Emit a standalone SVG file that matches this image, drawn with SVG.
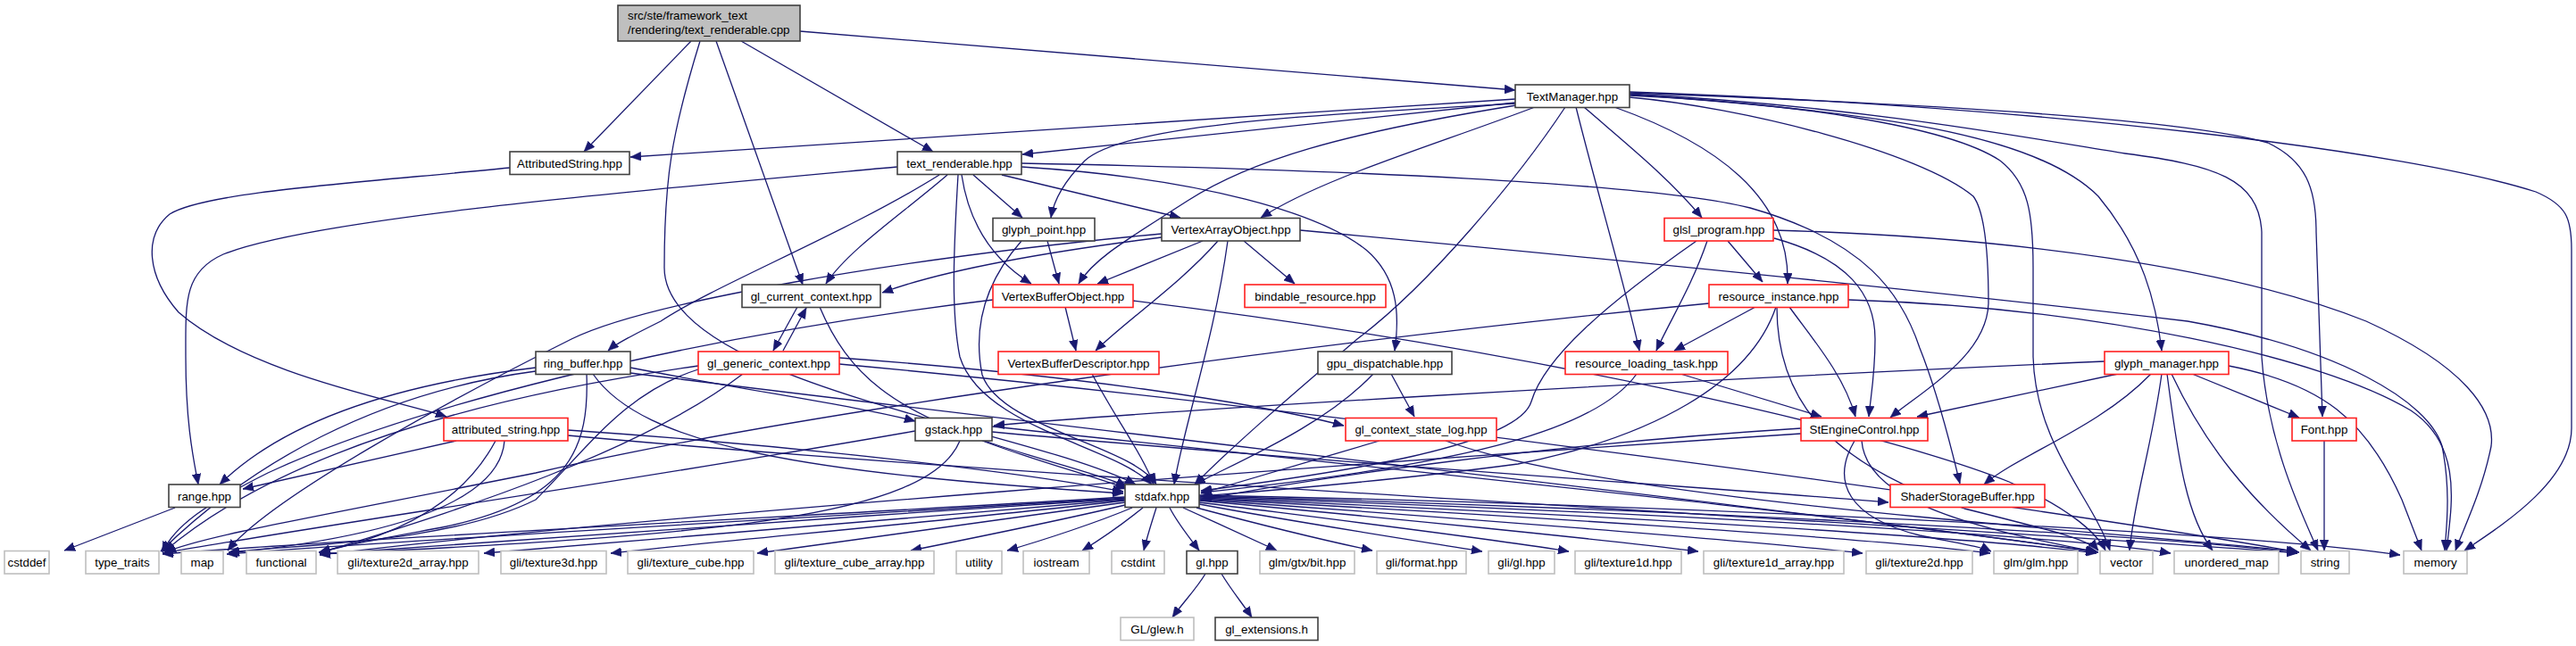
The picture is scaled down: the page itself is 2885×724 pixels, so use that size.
<svg xmlns="http://www.w3.org/2000/svg" width="2885" height="724" viewBox="0 0 2885 724">
<defs>
<style>
text{font-family:"Liberation Sans",Arial,Helvetica,sans-serif;font-size:13.33px;fill:#000;text-anchor:middle}
.nb rect{fill:#fff;stroke:#404040;stroke-width:1.6}
.nr rect{fill:#fff;stroke:#ff2020;stroke-width:1.6}
.ng rect{fill:#fff;stroke:#bfbfbf;stroke-width:1.6}
.root rect{fill:#bfbfbf;stroke:#404040;stroke-width:1.6}
.root text{text-anchor:start}
#edges path{fill:none;stroke:#191970;stroke-width:1.3;marker-end:url(#a)}
</style>
<marker id="a" markerUnits="userSpaceOnUse" markerWidth="12" markerHeight="10" viewBox="0 0 12 10" refX="12" refY="5" orient="auto">
<path d="M0,0 L12,5 L0,10 z" fill="#191970" stroke="#191970" stroke-width="0.5"/>
</marker>
</defs>
<rect width="2885" height="724" fill="#fff"/>
<g id="edges">
<!-- root -->
<path d="M896,35 L1697,101"/>
<path d="M774,46 L654,170"/>
<path d="M784,46 C752,150 744,200 744,300 C744,430 1150,480 1272,543"/>
<path d="M802,46 L899,319"/>
<path d="M830,46 L1045,170"/>
<!-- TextManager -->
<path d="M1697,111 L706,176"/>
<path d="M1697,115 L1145,173"/>
<path d="M1697,116 C1450,130 1260,140 1215,180 C1190,205 1180,225 1177,244"/>
<path d="M1698,118 C1500,150 1400,180 1330,225 C1260,270 1225,290 1208,318"/>
<path d="M1719,120 C1600,165 1480,200 1412,244"/>
<path d="M1753,120 C1700,200 1600,320 1520,380 C1450,440 1380,500 1338,543"/>
<path d="M1774,120 C1820,160 1870,200 1906,244"/>
<path d="M1765,120 C1790,220 1820,320 1836,393"/>
<path d="M1808,120 C1920,160 2005,220 2002,318"/>
<path d="M1825,109 C1950,120 2150,170 2210,220 C2225,240 2227,300 2227,340 C2225,400 2150,440 2117,468"/>
<path d="M1825,107 C2000,115 2180,140 2240,180 C2272,205 2277,240 2277,300 L2277,400 C2280,500 2345,560 2363,617"/>
<path d="M1825,106 C2100,125 2280,150 2350,220 C2400,280 2415,340 2421,393"/>
<path d="M1825,105 C2100,120 2300,160 2380,172 C2480,185 2530,200 2533,260 L2533,400 C2540,500 2580,580 2596,617"/>
<path d="M1825,104 C2200,118 2450,135 2540,160 C2582,180 2594,210 2594,260 L2601,467"/>
<path d="M1825,103 C2300,120 2700,170 2840,215 C2875,230 2880,245 2880,280 L2880,480 C2880,540 2800,590 2760,617"/>
<!-- text_renderable -->
<path d="M1005,187 C700,215 350,245 250,285 C205,305 208,340 208,400 C208,480 218,520 222,543"/>
<path d="M1052,196 C950,260 800,320 740,360 C710,375 690,385 681,393"/>
<path d="M1061,196 C1010,240 950,280 925,318"/>
<path d="M1073,196 C1068,280 1065,350 1075,400 C1100,480 1250,500 1290,543"/>
<path d="M1077,196 C1085,250 1110,290 1155,318"/>
<path d="M1090,196 L1145,244"/>
<path d="M1122,196 L1322,244"/>
<path d="M1144,187 C1350,200 1480,240 1530,280 C1565,310 1568,350 1562,393"/>
<path d="M1144,183 C1500,190 1850,205 1960,233 C2090,270 2130,330 2150,390 C2170,440 2185,500 2195,542"/>
<!-- AttributedString -->
<path d="M571,188 C400,205 230,215 190,240 C160,265 165,310 200,350 C280,420 450,450 500,467"/>
<!-- glyph_point -->
<path d="M1173,270 L1186,318"/>
<path d="M1144,270 C1100,320 1090,370 1100,420 C1120,480 1270,500 1295,543"/>
<!-- VertexArrayObject -->
<path d="M1301,266 C1150,285 1050,305 988,328"/>
<path d="M1301,262 C1000,290 720,340 640,380 C500,450 300,560 255,617"/>
<path d="M1347,270 L1229,318"/>
<path d="M1393,270 L1450,318"/>
<path d="M1375,270 C1360,380 1325,480 1315,543"/>
<path d="M1364,270 C1320,320 1260,360 1227,393"/>
<path d="M1456,258 C1800,290 2200,330 2450,360 C2620,390 2720,450 2735,500 C2745,550 2740,590 2738,617"/>
<!-- VertexBufferObject -->
<path d="M1193,344 L1205,393"/>
<path d="M1112,336 C750,380 450,460 300,530 C230,565 195,590 182,619"/>
<path d="M1269,337 C1700,390 2100,480 2250,540 C2320,570 2350,600 2358,617"/>
<!-- glsl_program -->
<path d="M1935,270 L1974,316"/>
<path d="M1912,270 C1895,320 1870,360 1855,393"/>
<path d="M1900,270 C1800,340 1730,400 1715,450 C1700,500 1500,530 1345,550"/>
<path d="M1987,267 C2070,290 2100,330 2100,380 C2100,420 2095,445 2093,467"/>
<path d="M1986,258 C2250,265 2500,300 2650,360 C2760,410 2795,460 2790,500 C2780,550 2760,590 2750,617"/>
<!-- resource_instance -->
<path d="M1966,344 L1875,393"/>
<path d="M2004,344 C2030,380 2065,420 2078,467"/>
<path d="M1989,344 C1960,430 1850,490 1700,520 C1550,540 1420,550 1345,556"/>
<path d="M1914,340 C1500,380 900,460 600,530 C350,580 230,600 185,619"/>
<path d="M1990,344 C1990,450 2050,520 2200,570 C2300,595 2340,605 2350,617"/>
<path d="M2070,336 C2350,345 2600,400 2700,460 C2760,500 2745,570 2740,617"/>
<!-- resource_loading_task -->
<path d="M1882,419 L2040,467"/>
<path d="M1833,419 C1790,480 1650,520 1345,552"/>
<!-- gpu_dispatchable -->
<path d="M1558,419 L1584,467"/>
<path d="M1538,419 C1480,480 1380,520 1338,543"/>
<!-- gl_context_state_log -->
<path d="M1545,494 L1345,553"/>
<path d="M1619,494 C1800,560 2300,590 2573,618"/>
<!-- gl_current_context -->
<path d="M893,344 L866,393"/>
<path d="M918,344 C950,420 1000,460 1120,500 C1200,525 1240,535 1262,545"/>
<!-- gl_generic_context -->
<path d="M877,393 L903,345"/>
<path d="M782,410 C500,450 300,520 184,618"/>
<path d="M782,414 C700,440 660,500 600,560 C500,610 330,610 256,619"/>
<path d="M832,419 C700,520 450,590 358,620"/>
<path d="M940,401 C1200,420 1400,450 1505,477"/>
<path d="M940,408 C1500,460 2300,570 2575,619"/>
<!-- ring_buffer -->
<path d="M600,412 C450,430 320,470 246,543"/>
<path d="M600,416 C420,440 280,520 180,618"/>
<path d="M657,419 C660,500 640,560 500,590 C420,605 380,612 358,619"/>
<path d="M664,419 C720,500 900,530 1258,553"/>
<path d="M706,412 C850,440 960,455 1025,472"/>
<path d="M706,418 C1200,480 2000,570 2348,618"/>
<!-- attributed_string -->
<path d="M511,494 L272,548"/>
<path d="M555,494 C520,560 450,600 357,619"/>
<path d="M565,494 C560,560 450,600 256,620"/>
<path d="M636,482 C900,500 1150,530 1258,551"/>
<path d="M636,488 C1200,540 2200,590 2573,620"/>
<!-- gstack -->
<path d="M1025,483 C700,540 350,590 182,620"/>
<path d="M1075,494 C1040,580 800,600 358,621"/>
<path d="M1100,494 C1170,520 1230,535 1262,548"/>
<path d="M1111,478 C1500,520 2100,580 2348,619"/>
<path d="M1111,484 C1500,520 1900,545 2115,563"/>
<!-- glyph_manager -->
<path d="M2357,405 C1800,430 1300,460 1113,477"/>
<path d="M2372,419 L2147,467"/>
<path d="M2409,419 C2350,480 2260,510 2222,543"/>
<path d="M2421,419 C2410,500 2390,560 2385,617"/>
<path d="M2427,419 C2440,520 2450,580 2478,617"/>
<path d="M2432,419 C2470,500 2520,560 2588,617"/>
<path d="M2455,419 L2575,468"/>
<path d="M2496,410 C2600,430 2650,470 2690,560 L2712,617"/>
<!-- Font -->
<path d="M2603,494 L2603,617"/>
<!-- StEngineControl -->
<path d="M2017,480 C1700,500 1450,540 1345,560"/>
<path d="M2017,486 C1500,520 700,580 358,622"/>
<path d="M2077,494 C2050,540 2070,580 2150,600 C2200,610 2220,613 2230,618"/>
<path d="M2085,494 C2090,560 2200,590 2350,619"/>
<!-- VertexBufferDescriptor -->
<path d="M1223,419 C1250,470 1280,510 1292,543"/>
<!-- range -->
<path d="M196,569 L72,617"/>
<!-- stdafx -->
<path d="M1295,569 C1290,585 1285,600 1281,617"/>
<path d="M1310,569 C1318,585 1330,600 1343,617"/>
<path d="M1280,569 C1260,585 1235,603 1212,617"/>
<path d="M1268,569 C1230,585 1170,605 1128,617"/>
<path d="M1260,566 C1180,585 1080,605 1020,617"/>
<path d="M1260,563 C1100,585 950,605 848,620"/>
<path d="M1260,561 C1050,585 820,605 684,620"/>
<path d="M1260,560 C1000,583 700,605 542,620"/>
<path d="M1260,559 C950,580 550,605 358,621"/>
<path d="M1260,558 C950,578 450,605 254,621"/>
<path d="M1260,557 C950,576 400,603 182,621"/>
<path d="M1325,569 C1360,585 1400,603 1430,617"/>
<path d="M1340,569 C1400,585 1480,605 1537,617"/>
<path d="M1343,565 C1450,585 1580,605 1660,618"/>
<path d="M1343,563 C1500,583 1680,605 1757,618"/>
<path d="M1343,561 C1550,580 1800,605 1902,618"/>
<path d="M1343,560 C1600,578 1950,605 2086,620"/>
<path d="M1343,559 C1650,575 2100,603 2229,620"/>
<path d="M1343,558 C1700,573 2200,600 2348,620"/>
<path d="M1343,557 C1750,570 2300,598 2431,620"/>
<path d="M1343,556 C1800,568 2400,597 2573,620"/>
<path d="M1343,555 C1850,565 2500,595 2688,622"/>
<!-- gl.hpp -->
<path d="M1350,643 C1340,660 1325,675 1313,692"/>
<path d="M1368,643 C1378,660 1392,677 1402,692"/>
</g>
<g id="node-root" class="root"><rect x="692" y="6" width="204" height="40"/><text x="703" y="22">src/ste/framework_text</text><text x="703" y="38">/rendering/text_renderable.cpp</text></g>
<g id="node-TextManager" class="nb"><rect x="1697" y="95" width="128" height="25.5"/><text x="1761" y="112.5">TextManager.hpp</text></g>
<g id="node-AttributedString" class="nb"><rect x="571" y="170" width="134" height="25.5"/><text x="638" y="187.5">AttributedString.hpp</text></g>
<g id="node-text_renderable" class="nb"><rect x="1005" y="170" width="139" height="25.5"/><text x="1074.5" y="187.5">text_renderable.hpp</text></g>
<g id="node-glyph_point" class="nb"><rect x="1112" y="244.5" width="114" height="25.5"/><text x="1169" y="262">glyph_point.hpp</text></g>
<g id="node-VertexArrayObject" class="nb"><rect x="1301" y="244.5" width="155" height="25.5"/><text x="1378.5" y="262">VertexArrayObject.hpp</text></g>
<g id="node-glsl_program" class="nr"><rect x="1864" y="244.5" width="122" height="25.5"/><text x="1925" y="262">glsl_program.hpp</text></g>
<g id="node-gl_current_context" class="nb"><rect x="831" y="319" width="155" height="25.5"/><text x="908.5" y="336.5">gl_current_context.hpp</text></g>
<g id="node-VertexBufferObject" class="nr"><rect x="1112" y="319" width="157" height="25.5"/><text x="1190.5" y="336.5">VertexBufferObject.hpp</text></g>
<g id="node-bindable_resource" class="nr"><rect x="1394" y="319" width="158" height="25.5"/><text x="1473" y="336.5">bindable_resource.hpp</text></g>
<g id="node-resource_instance" class="nr"><rect x="1914" y="319" width="156" height="25.5"/><text x="1992" y="336.5">resource_instance.hpp</text></g>
<g id="node-ring_buffer" class="nb"><rect x="600" y="394" width="106" height="25.5"/><text x="653" y="411.5">ring_buffer.hpp</text></g>
<g id="node-gl_generic_context" class="nr"><rect x="782" y="394" width="158" height="25.5"/><text x="861" y="411.5">gl_generic_context.hpp</text></g>
<g id="node-VertexBufferDescriptor" class="nr"><rect x="1118" y="394" width="180" height="25.5"/><text x="1208" y="411.5">VertexBufferDescriptor.hpp</text></g>
<g id="node-gpu_dispatchable" class="nb"><rect x="1476" y="394" width="150" height="25.5"/><text x="1551" y="411.5">gpu_dispatchable.hpp</text></g>
<g id="node-resource_loading_task" class="nr"><rect x="1753" y="394" width="182" height="25.5"/><text x="1844" y="411.5">resource_loading_task.hpp</text></g>
<g id="node-glyph_manager" class="nr"><rect x="2357" y="394" width="139" height="25.5"/><text x="2426.5" y="411.5">glyph_manager.hpp</text></g>
<g id="node-attributed_string" class="nr"><rect x="497" y="468.5" width="139" height="25.5"/><text x="566.5" y="486">attributed_string.hpp</text></g>
<g id="node-gstack" class="nb"><rect x="1025" y="468.5" width="86" height="25.5"/><text x="1068" y="486">gstack.hpp</text></g>
<g id="node-gl_context_state_log" class="nr"><rect x="1507" y="468.5" width="169" height="25.5"/><text x="1591.5" y="486">gl_context_state_log.hpp</text></g>
<g id="node-StEngineControl" class="nr"><rect x="2017" y="468.5" width="142" height="25.5"/><text x="2088" y="486">StEngineControl.hpp</text></g>
<g id="node-Font" class="nr"><rect x="2567" y="468.5" width="72" height="25.5"/><text x="2603" y="486">Font.hpp</text></g>
<g id="node-range" class="nb"><rect x="189" y="543" width="80" height="25.5"/><text x="229" y="560.5">range.hpp</text></g>
<g id="node-stdafx" class="nb"><rect x="1260" y="543" width="83" height="25.5"/><text x="1301.5" y="560.5">stdafx.hpp</text></g>
<g id="node-ShaderStorageBuffer" class="nr"><rect x="2117" y="543" width="173" height="25.5"/><text x="2203.5" y="560.5">ShaderStorageBuffer.hpp</text></g>
<g id="node-cstddef" class="ng"><rect x="5" y="617.5" width="50" height="25.5"/><text x="30" y="635">cstddef</text></g>
<g id="node-type_traits" class="ng"><rect x="96" y="617.5" width="82" height="25.5"/><text x="137" y="635">type_traits</text></g>
<g id="node-map" class="ng"><rect x="203" y="617.5" width="47" height="25.5"/><text x="226.5" y="635">map</text></g>
<g id="node-functional" class="ng"><rect x="276" y="617.5" width="78" height="25.5"/><text x="315" y="635">functional</text></g>
<g id="node-gli_texture2d_array" class="ng"><rect x="378" y="617.5" width="158" height="25.5"/><text x="457" y="635">gli/texture2d_array.hpp</text></g>
<g id="node-gli_texture3d" class="ng"><rect x="561" y="617.5" width="118" height="25.5"/><text x="620" y="635">gli/texture3d.hpp</text></g>
<g id="node-gli_texture_cube" class="ng"><rect x="703" y="617.5" width="141" height="25.5"/><text x="773.5" y="635">gli/texture_cube.hpp</text></g>
<g id="node-gli_texture_cube_array" class="ng"><rect x="868" y="617.5" width="178" height="25.5"/><text x="957" y="635">gli/texture_cube_array.hpp</text></g>
<g id="node-utility" class="ng"><rect x="1071" y="617.5" width="51" height="25.5"/><text x="1096.5" y="635">utility</text></g>
<g id="node-iostream" class="ng"><rect x="1146" y="617.5" width="74" height="25.5"/><text x="1183" y="635">iostream</text></g>
<g id="node-cstdint" class="ng"><rect x="1245" y="617.5" width="59" height="25.5"/><text x="1274.5" y="635">cstdint</text></g>
<g id="node-gl_hpp" class="nb"><rect x="1329" y="617.5" width="57" height="25.5"/><text x="1357.5" y="635">gl.hpp</text></g>
<g id="node-glm_gtx_bit" class="ng"><rect x="1411" y="617.5" width="106" height="25.5"/><text x="1464" y="635">glm/gtx/bit.hpp</text></g>
<g id="node-gli_format" class="ng"><rect x="1542" y="617.5" width="100" height="25.5"/><text x="1592" y="635">gli/format.hpp</text></g>
<g id="node-gli_gl" class="ng"><rect x="1667" y="617.5" width="74" height="25.5"/><text x="1704" y="635">gli/gl.hpp</text></g>
<g id="node-gli_texture1d" class="ng"><rect x="1764" y="617.5" width="119" height="25.5"/><text x="1823.5" y="635">gli/texture1d.hpp</text></g>
<g id="node-gli_texture1d_array" class="ng"><rect x="1908" y="617.5" width="157" height="25.5"/><text x="1986.5" y="635">gli/texture1d_array.hpp</text></g>
<g id="node-gli_texture2d" class="ng"><rect x="2090" y="617.5" width="119" height="25.5"/><text x="2149.5" y="635">gli/texture2d.hpp</text></g>
<g id="node-glm_glm" class="ng"><rect x="2233" y="617.5" width="94" height="25.5"/><text x="2280" y="635">glm/glm.hpp</text></g>
<g id="node-vector" class="ng"><rect x="2352" y="617.5" width="59" height="25.5"/><text x="2381.5" y="635">vector</text></g>
<g id="node-unordered_map" class="ng"><rect x="2435" y="617.5" width="117" height="25.5"/><text x="2493.5" y="635">unordered_map</text></g>
<g id="node-string" class="ng"><rect x="2577" y="617.5" width="54" height="25.5"/><text x="2604" y="635">string</text></g>
<g id="node-memory" class="ng"><rect x="2692" y="617.5" width="71" height="25.5"/><text x="2727.5" y="635">memory</text></g>
<g id="node-GL_glew" class="ng"><rect x="1255" y="692" width="82" height="25.5"/><text x="1296" y="709.5">GL/glew.h</text></g>
<g id="node-gl_extensions" class="nb"><rect x="1361" y="692" width="115" height="25.5"/><text x="1418.5" y="709.5">gl_extensions.h</text></g>
</svg>
